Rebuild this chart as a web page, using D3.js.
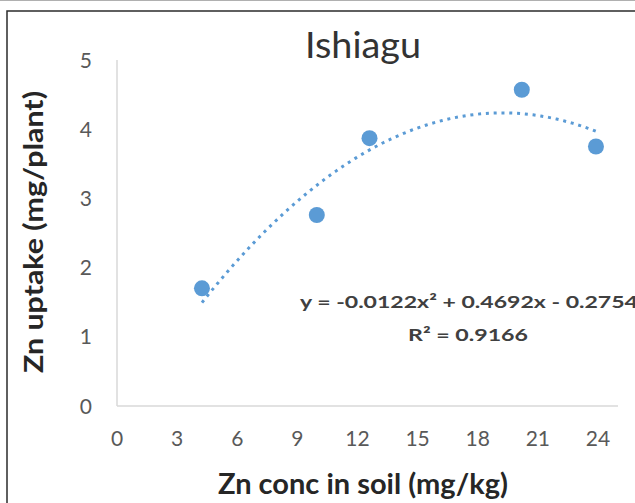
<!DOCTYPE html>
<html>
<head>
<meta charset="utf-8">
<script src="https://cdn.jsdelivr.net/npm/d3@7"></script>
<style>
  html, body { margin: 0; padding: 0; background: #fff; }
  svg { display: block; }
</style>
</head>
<body>
<svg id="chart" width="635" height="503"></svg>
<script>
// ---- data ----
const title = "Ishiagu";
const xLabel = "Zn conc in soil (mg/kg)";
const yLabel = "Zn uptake (mg/plant)";
const xValues = [4.24, 9.97, 12.6, 20.2, 23.9];
const yValues = [1.70, 2.76, 3.87, 4.57, 3.75];
const xTicks = [0, 3, 6, 9, 12, 15, 18, 21, 24];
const yTicks = [0, 1, 2, 3, 4, 5];
const trendCoef = [-0.0122, 0.4692, -0.2754]; // a, b, c of stated fit
const eqText = "y = -0.0122x² + 0.4692x - 0.2754";
const r2Text = "R² = 0.9166";

const svg = d3.select("#chart");
const font = "Lato, 'Open Sans', sans-serif";

// outer frame
svg.append("line").attr("x1", 0).attr("x2", 635).attr("y1", 0.5).attr("y2", 0.5)
  .attr("stroke", "#b0b0b0").attr("stroke-width", 1);
svg.append("rect").attr("x", 7).attr("y", 11).attr("width", 700).attr("height", 600)
  .attr("fill", "none").attr("stroke", "#2b2b2b").attr("stroke-width", 1.5);

const x = d3.scaleLinear().domain([0, 25]).range([117, 618]);
const y = d3.scaleLinear().domain([0, 5]).range([406, 60]);

// axes lines
const g = svg.append("g");
g.append("line").attr("x1", x(0)).attr("x2", x(0)).attr("y1", y(5)).attr("y2", y(0))
  .attr("stroke", "#d9d9d9").attr("stroke-width", 1.5);
g.append("line").attr("x1", x(0)).attr("x2", x(25)).attr("y1", y(0)).attr("y2", y(0))
  .attr("stroke", "#d9d9d9").attr("stroke-width", 1.5);

// tick labels
g.selectAll(".yt").data(yTicks).join("text")
  .attr("x", 92).attr("y", d => y(d) + 7.5)
  .attr("text-anchor", "end")
  .attr("font-family", font).attr("font-size", 21).attr("fill", "#595959")
  .text(d => d);
g.selectAll(".xt").data(xTicks).join("text")
  .attr("x", d => x(d)).attr("y", 446)
  .attr("text-anchor", "middle")
  .attr("font-family", font).attr("font-size", 21).attr("fill", "#595959")
  .text(d => d);

// title
svg.append("text").attr("x", 363).attr("y", 58).attr("text-anchor", "middle")
  .attr("font-family", font).attr("font-size", 37).attr("fill", "#333333")
  .attr("textLength", 116).attr("lengthAdjust", "spacingAndGlyphs")
  .text(title);

// axis titles
svg.append("text").attr("x", 363).attr("y", 494).attr("text-anchor", "middle")
  .attr("font-family", font).attr("font-weight", "bold").attr("font-size", 29).attr("fill", "#262626")
  .attr("textLength", 290).attr("lengthAdjust", "spacingAndGlyphs")
  .text(xLabel);
svg.append("text").attr("transform", "translate(43,232) rotate(-90)")
  .attr("text-anchor", "middle")
  .attr("font-family", font).attr("font-weight", "bold").attr("font-size", 27).attr("fill", "#262626")
  .attr("textLength", 282).attr("lengthAdjust", "spacingAndGlyphs")
  .text(yLabel);

// trendline (from stated polynomial fit)
const poly = t => trendCoef[0] * t * t + trendCoef[1] * t + trendCoef[2];
const xMin = d3.min(xValues), xMax = d3.max(xValues);
const trendPts = d3.range(0, 101).map(i => {
  const t = xMin + (xMax - xMin) * i / 100;
  return [t, poly(t)];
});
svg.append("path")
  .attr("d", d3.line().x(d => x(d[0])).y(d => y(d[1]))(trendPts))
  .attr("fill", "none").attr("stroke", "#5b9bd5").attr("stroke-width", 3)
  .attr("stroke-dasharray", "3 4.8");

// points
const pts = xValues.map((v, i) => [v, yValues[i]]);
svg.selectAll(".pt").data(pts).join("circle")
  .attr("cx", d => x(d[0])).attr("cy", d => y(d[1])).attr("r", 8)
  .attr("fill", "#5b9bd5");

// equation
svg.append("text").attr("x", 300).attr("y", 308)
  .attr("font-family", font).attr("font-weight", "bold").attr("font-size", 17.5).attr("fill", "#404040")
  .attr("textLength", 338).attr("lengthAdjust", "spacingAndGlyphs")
  .text(eqText);
svg.append("text").attr("x", 468).attr("y", 341).attr("text-anchor", "middle")
  .attr("font-family", font).attr("font-weight", "bold").attr("font-size", 17.5).attr("fill", "#404040")
  .attr("textLength", 120).attr("lengthAdjust", "spacingAndGlyphs")
  .text(r2Text);
</script>
</body>
</html>
